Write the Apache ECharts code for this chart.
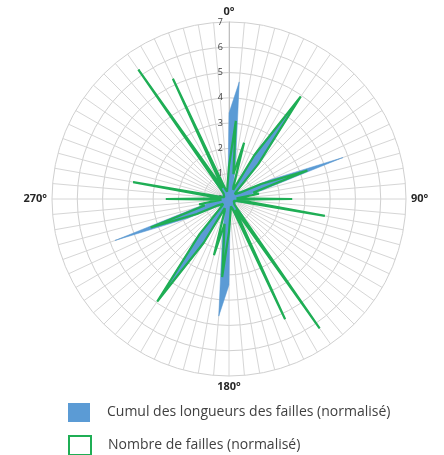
<!DOCTYPE html>
<html>
<head>
<meta charset="utf-8">
<script src="https://cdn.jsdelivr.net/npm/echarts@6/dist/echarts.min.js"></script>
<style>
html,body{margin:0;padding:0;background:#fff;}
#chart{width:444px;height:455px;}
</style>
</head>
<body>
<div id="chart"></div>
<script>
// Direction of each 5° bin (degrees, clockwise from north)
const angles = [0,5,10,15,20,25,30,35,40,45,50,55,60,65,70,75,80,85,90,95,100,105,110,115,120,125,130,135,140,145,150,155,160,165,170,175,
                180,185,190,195,200,205,210,215,220,225,230,235,240,245,250,255,260,265,270,275,280,285,290,295,300,305,310,315,320,325,330,335,340,345,350,355];
// Cumul des longueurs des failles (normalisé)
const cumulLongueurs = [3.4,4.65,1.5,0.7,0.5,0.6,2.2,4.9,2.0,0.6,0.4,0.4,0.7,1.8,4.8,1.4,0.7,0.4,0.8,0.5,1.3,0.5,0.3,0.3,0.3,0.3,0.3,0.4,0.8,1.8,0.8,1.7,0.6,0.4,0.3,0.5,
                        3.4,4.65,1.5,0.7,0.5,0.6,2.2,4.9,2.0,0.6,0.4,0.4,0.7,1.8,4.8,1.4,0.7,0.4,0.8,0.5,1.3,0.5,0.3,0.3,0.3,0.3,0.3,0.4,0.8,1.8,0.8,1.7,0.6,0.4,0.3,0.5];
// Nombre de failles (normalisé)
const nombreFailles = [1.3,3.1,1.0,2.3,0.5,0.4,2.0,4.95,1.8,0.4,0.3,0.3,0.5,1.4,3.3,1.0,1.2,0.3,2.5,0.3,3.85,0.3,0.2,0.2,0.2,0.2,0.2,0.3,0.5,6.25,0.5,5.25,0.4,0.3,0.3,0.3,
                       1.3,3.1,1.0,2.3,0.5,0.4,2.0,4.95,1.8,0.4,0.3,0.3,0.5,1.4,3.3,1.0,1.2,0.3,2.5,0.3,3.85,0.3,0.2,0.2,0.2,0.2,0.2,0.3,0.5,6.25,0.5,5.25,0.4,0.3,0.3,0.3];
const angleLabels = {0:'0°',90:'90°',180:'180°',270:'270°'};
const radiusTicks = [0,1,2,3,4,5,6,7];
const seriesNames = ['Cumul des longueurs des failles (normalisé)','Nombre de failles (normalisé)'];

function toPolar(vals){
  const d = angles.map((a,i)=>[vals[i], a]);
  d.push([vals[0], 360]);
  return d;
}

const CX = 229, CY = 199;
const chart = echarts.init(document.getElementById('chart'), null, {renderer:'canvas'});
const FONT = '"Open Sans", "Noto Sans", sans-serif';
const legendText = {fontSize:14, color:'#404040', fontFamily:FONT, padding:[0,0,0,12]};
chart.setOption({
  animation:false,
  backgroundColor:'#fff',
  polar:{center:[CX,CY], radius:177},
  angleAxis:{
    type:'value', min:0, max:360, interval:5, startAngle:90, clockwise:true,
    axisLine:{show:false}, axisTick:{show:false},
    splitLine:{show:true, lineStyle:{color:'#d6d6d6', width:1}},
    axisLabel:{
      show:true, margin:5, fontSize:11, fontWeight:'bold', color:'#262626', fontFamily:FONT,
      formatter:v=> (angleLabels[v] !== undefined && v !== 360) ? angleLabels[v] : ''
    }
  },
  radiusAxis:{
    type:'value', min:radiusTicks[0], max:radiusTicks[radiusTicks.length-1], interval:1,
    axisLine:{show:true, lineStyle:{color:'#bfbfbf', width:1}},
    axisTick:{show:false},
    axisLabel:{show:true, fontSize:9, color:'#404040', fontFamily:FONT, margin:6},
    splitLine:{show:true, lineStyle:{color:'#d0d0d0', width:1}}
  },
  legend:[
    {
      orient:'vertical', left:68, top:403, itemWidth:22, itemHeight:19, padding:0,
      textStyle:legendText,
      data:[{name:seriesNames[0], icon:'rect', itemStyle:{color:'#5b9bd5', borderWidth:0}}]
    },
    {
      orient:'vertical', left:68, top:435, itemWidth:22, itemHeight:19, padding:0,
      textStyle:legendText,
      data:[{name:seriesNames[1], icon:'rect', itemStyle:{color:'#ffffff', borderColor:'#1fae55', borderWidth:2}}]
    }
  ],
  graphic:[{
    type:'circle', shape:{cx:CX, cy:CY, r:6}, style:{fill:'#a6a6a6'}, z:1
  }],
  series:[
    {
      name:seriesNames[0], type:'line', coordinateSystem:'polar',
      data:toPolar(cumulLongueurs), symbol:'none', smooth:false,
      lineStyle:{width:0.5, color:'#5b9bd5'},
      itemStyle:{color:'#5b9bd5'},
      areaStyle:{color:'#5b9bd5', opacity:1},
      z:2
    },
    {
      name:seriesNames[1], type:'line', coordinateSystem:'polar',
      data:toPolar(nombreFailles), symbol:'none', smooth:false,
      lineStyle:{width:2.2, color:'#1fae55'},
      itemStyle:{color:'#1fae55'},
      z:3
    }
  ]
});
</script>
</body>
</html>
